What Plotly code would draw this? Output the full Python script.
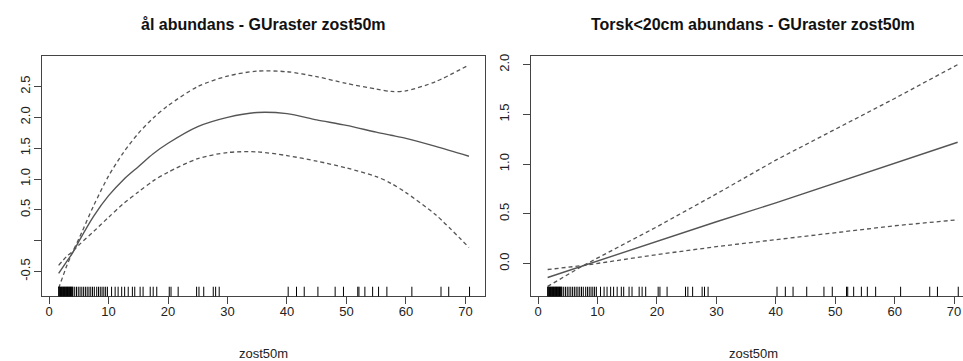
import plotly.graph_objects as go

# ---------------- data ----------------
# left panel: s(zost50m) for ål abundans
eel_x = [1.6, 3, 4, 5, 7.5, 10, 12.5, 15, 17.5, 20, 25, 30, 35, 40, 45, 50, 55, 57.5, 60, 65, 70.6]
eel_fit = [-0.53, -0.33, -0.19, -0.01, 0.40, 0.73, 0.99, 1.20, 1.41, 1.58, 1.85, 2.00, 2.08, 2.06, 1.96, 1.87, 1.76, 1.71, 1.66, 1.53, 1.37]
eel_band_a = [-0.77, -0.40, -0.17, 0.03, 0.57, 1.05, 1.43, 1.74, 1.99, 2.19, 2.50, 2.67, 2.75, 2.74, 2.66, 2.55, 2.46, 2.42, 2.43, 2.58, 2.85]
eel_band_b = [-0.40, -0.25, -0.17, -0.07, 0.15, 0.38, 0.60, 0.79, 0.97, 1.11, 1.33, 1.43, 1.44, 1.38, 1.29, 1.18, 1.04, 0.93, 0.78, 0.42, -0.11]

# right panel: s(zost50m) for Torsk<20cm abundans (linear)
cod_x = [1.6, 7.6, 20, 30, 40, 50, 60, 70.6]
cod_fit = [-0.14, -0.02, 0.22, 0.42, 0.61, 0.81, 1.01, 1.22]
cod_band_a = [-0.23, -0.02, 0.37, 0.70, 1.04, 1.35, 1.66, 2.00]
cod_band_b = [-0.06, -0.02, 0.09, 0.17, 0.24, 0.31, 0.38, 0.44]

# rug: observed zost50m values
rug_x = [1.6, 1.7, 1.8, 1.9, 2.0, 2.1, 2.2, 2.3, 2.4, 2.5, 2.6, 2.7, 2.8, 2.9, 3.0,
         3.1, 3.2, 3.3, 3.4, 3.5, 3.6, 3.7, 3.8, 3.9, 4.0,
         4.3, 4.6, 4.9, 5.2, 5.5, 5.8, 6.1, 6.4, 6.7, 7.0, 7.3, 7.6, 8.0, 8.3,
         8.6, 8.9, 9.2, 9.5, 9.8,
         10.5, 11.1, 11.6, 12.2, 12.7, 13.3, 14.0, 14.4, 15.3, 15.8, 17.0, 17.5,
         18.1, 20.2, 20.5, 21.7, 24.8, 25.2, 26.0, 27.6, 28.0, 28.6,
         40.2, 41.6, 42.9, 45.2, 48.1, 49.5, 51.9, 52.1, 53.1, 54.4, 55.4,
         56.8, 61.0, 65.9, 67.2, 70.7]

x_ticks = [0, 10, 20, 30, 40, 50, 60, 70]
eel_y_ticks = [-0.5, 0, 0.5, 1.0, 1.5, 2.0, 2.5]
eel_y_text = ["-0.5", "", "0.5", "1.0", "1.5", "2.0", "2.5"]
cod_y_ticks = [0.0, 0.5, 1.0, 1.5, 2.0]
cod_y_text = ["0.0", "0.5", "1.0", "1.5", "2.0"]

titles = ["ål abundans - GUraster zost50m", "Torsk<20cm abundans - GUraster zost50m"]
x_title = "zost50m"

# ---------------- figure ----------------
LINE_COL = "#555555"
AX_COL = "#444444"
FONT = "Liberation Sans, Arial, sans-serif"

fig = go.Figure()

def add_panel(xs, fit, ba, bb, xa, ya, shape):
    fig.add_trace(go.Scatter(x=xs, y=fit, mode="lines", xaxis=xa, yaxis=ya,
                             line=dict(color=LINE_COL, width=1.4, shape=shape, smoothing=0.8),
                             showlegend=False, hoverinfo="skip"))
    for b in (ba, bb):
        fig.add_trace(go.Scatter(x=xs, y=b, mode="lines", xaxis=xa, yaxis=ya,
                                 line=dict(color=LINE_COL, width=1.3, dash="4px,3px",
                                           shape=shape, smoothing=0.8),
                                 showlegend=False, hoverinfo="skip"))

add_panel(eel_x, eel_fit, eel_band_a, eel_band_b, "x", "y", "spline")
add_panel(cod_x, cod_fit, cod_band_a, cod_band_b, "x2", "y2", "linear")

# rug ticks
for xref, yref in (("x", "y domain"), ("x2", "y2 domain")):
    for v in rug_x:
        fig.add_shape(type="line", xref=xref, yref=yref, x0=v, x1=v, y0=0, y1=0.04,
                      line=dict(color="black", width=1))

ydom = [1 - 296 / 361, 1 - 54 / 361]
dom1 = [42 / 963, 485 / 963]
dom2 = [531 / 963, 1.0]

common_x = dict(showgrid=False, zeroline=False, showline=True, linecolor=AX_COL, linewidth=1,
                ticks="outside", ticklen=7, tickcolor=AX_COL, tickwidth=1, ticklabelstandoff=-4,
                tickvals=x_ticks, tickfont=dict(size=13, color="#222222", family=FONT))
common_y = dict(showgrid=False, zeroline=False, showline=True, linecolor=AX_COL, linewidth=1,
                ticks="outside", ticklen=7, tickcolor=AX_COL, tickwidth=1, tickangle=-90,
                tickfont=dict(size=13, color="#222222", family=FONT))

fig.update_layout(
    width=963, height=361, margin=dict(l=0, r=0, t=0, b=0),
    paper_bgcolor="white", plot_bgcolor="white",
    font=dict(family=FONT, color="#222222"),
    xaxis=dict(common_x, domain=dom1, range=[-1.2, 73.3], mirror=True, anchor="y"),
    yaxis=dict(common_y, domain=ydom, range=[-0.903, 3.0], mirror=True, anchor="x",
               tickvals=eel_y_ticks, ticktext=eel_y_text, ticklabelstandoff=-1),
    xaxis2=dict(common_x, domain=dom2, range=[-1.2, 71.5], mirror=True, anchor="y2"),
    yaxis2=dict(common_y, domain=ydom, range=[-0.33, 2.09], mirror=False, anchor="x2",
                tickvals=cod_y_ticks, ticktext=cod_y_text, ticklabelstandoff=9),
)

centers = [(42 + 485) / 2 / 963, (531 + 975) / 2 / 963]
for cx, t in zip(centers, titles):
    fig.add_annotation(text=t, xref="paper", yref="paper", x=cx, y=1 - 22.5 / 361,
                       xanchor="center", yanchor="middle", showarrow=False,
                       font=dict(size=16, family=FONT, color="#111111", weight="bold"))
    fig.add_annotation(text=x_title, xref="paper", yref="paper", x=cx,
                       y=1 - 353 / 361, xanchor="center", yanchor="middle", showarrow=False,
                       font=dict(size=13, family=FONT, color="#222222"))

fig.write_html("out.html")
